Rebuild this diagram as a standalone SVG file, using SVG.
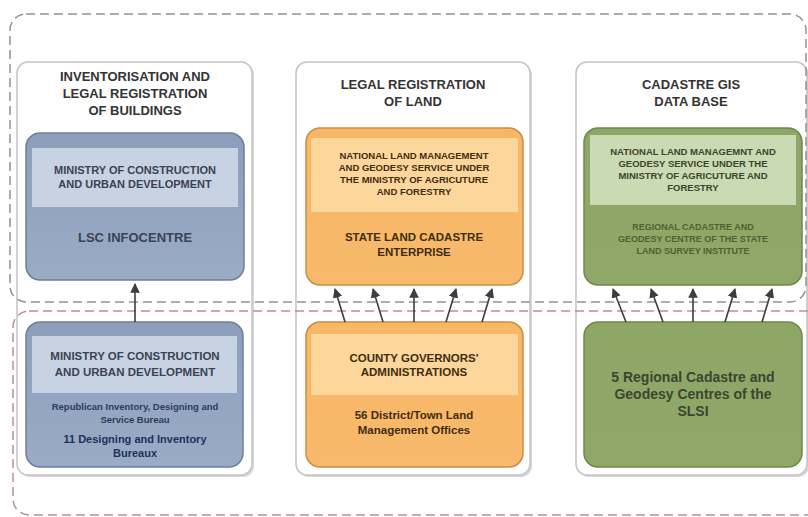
<svg xmlns="http://www.w3.org/2000/svg" width="808" height="517" viewBox="0 0 808 517">
<style>
text{font-family:"Liberation Sans",Arial,sans-serif;font-weight:bold;text-anchor:middle}
.hdr{font-size:13px;fill:#333}
.panel{fill:#fff;stroke:#c4c4c8;stroke-width:1.5}
.shadow{fill:#d8d8dc}
.dash1{fill:none;stroke:#9a8e8e;stroke-width:1.5;stroke-dasharray:9 5}
.dash2{fill:none;stroke:#b89292;stroke-width:1.5;stroke-dasharray:9 5}
.blue{fill:url(#gBlue);stroke:#6e7f9c;stroke-width:1.5}
.blueBand{fill:#c7d2e2}
.orange{fill:url(#gOrange);stroke:#c98d45;stroke-width:1.5}
.orangeBand{fill:#fdd69c}
.green{fill:url(#gGreen);stroke:#6f874c;stroke-width:1.5}
.greenBand{fill:#cadab2}
.tb{fill:#3b4252}
.to{fill:#3d2e12}
.tg{fill:#3c4530}
.tg2{fill:#4f6034}
.arrow{stroke:#3d3d3d;stroke-width:1.6;fill:none;marker-end:url(#ah)}
</style>
<defs>
<linearGradient id="gBlue" x1="0" y1="0" x2="0" y2="1"><stop offset="0" stop-color="#8d9ebb"/><stop offset="1" stop-color="#9aabc6"/></linearGradient>
<linearGradient id="gOrange" x1="0" y1="0" x2="0" y2="1"><stop offset="0" stop-color="#f7b764"/><stop offset="1" stop-color="#f9b96c"/></linearGradient>
<linearGradient id="gGreen" x1="0" y1="0" x2="0" y2="1"><stop offset="0" stop-color="#8ea766"/><stop offset="1" stop-color="#90a867"/></linearGradient>
<marker id="ah" viewBox="0 0 10 10" refX="9" refY="5" markerWidth="6" markerHeight="6" orient="auto-start-reverse"><path d="M0,0 L10,5 L0,10 z" fill="#3d3d3d"/></marker>
</defs>
<rect width="808" height="517" fill="#fff"/>

<g id="panel-buildings">
<rect class="shadow" x="19" y="64" width="235" height="413" rx="11"/>
<rect class="panel" x="17" y="62" width="235" height="413" rx="11"/>
<text class="hdr" x="135" y="81">INVENTORISATION AND</text>
<text class="hdr" x="135" y="98">LEGAL REGISTRATION</text>
<text class="hdr" x="135" y="115">OF BUILDINGS</text>
</g>
<g id="panel-land">
<rect class="shadow" x="298" y="64" width="234" height="413" rx="11"/>
<rect class="panel" x="296" y="62" width="234" height="413" rx="11"/>
<text class="hdr" x="413" y="89">LEGAL REGISTRATION</text>
<text class="hdr" x="413" y="106">OF LAND</text>
</g>
<g id="panel-gis">
<rect class="shadow" x="578" y="64" width="231" height="413" rx="11"/>
<rect class="panel" x="576" y="62" width="231" height="413" rx="11"/>
<text class="hdr" x="691" y="89">CADASTRE GIS</text>
<text class="hdr" x="691" y="106">DATA BASE</text>
</g>

<g id="regions">
<rect class="dash1" x="10" y="14" width="796" height="288" rx="16"/>
<rect class="dash2" x="13" y="311" width="810" height="204" rx="16"/>
</g>

<g id="lsc-infocentre">
<rect class="blue" x="26" y="133" width="218" height="147" rx="14"/>
<rect class="blueBand" x="32" y="148" width="206" height="59"/>
<text class="tb" x="135" y="174" font-size="11">MINISTRY OF CONSTRUCTION</text>
<text class="tb" x="135" y="188" font-size="11">AND URBAN DEVELOPMENT</text>
<text class="tb" x="135" y="242" font-size="13">LSC INFOCENTRE</text>
</g>

<g id="state-land-cadastre">
<rect class="orange" x="306" y="128" width="217" height="157" rx="14"/>
<rect class="orangeBand" x="311" y="138" width="207" height="74"/>
<text class="to" x="414" y="159" font-size="9.5">NATIONAL LAND MANAGEMENT</text>
<text class="to" x="414" y="171" font-size="9.5">AND GEODESY SERVICE UNDER</text>
<text class="to" x="414" y="183" font-size="9.5">THE MINISTRY OF AGRICUTURE</text>
<text class="to" x="414" y="195" font-size="9.5">AND FORESTRY</text>
<text class="to" x="414" y="241" font-size="11.5">STATE LAND CADASTRE</text>
<text class="to" x="414" y="256" font-size="11.5">ENTERPRISE</text>
</g>

<g id="regional-cadastre-centre">
<rect class="green" x="584" y="128" width="218" height="157" rx="14"/>
<rect class="greenBand" x="590" y="135" width="206" height="70"/>
<text class="tg" x="693" y="155" font-size="9.5">NATIONAL LAND MANAGEMNT AND</text>
<text class="tg" x="693" y="167" font-size="9.5">GEODESY SERVICE UNDER THE</text>
<text class="tg" x="693" y="179" font-size="9.5">MINISTRY OF AGRICUTURE AND</text>
<text class="tg" x="693" y="191" font-size="9.5">FORESTRY</text>
<text class="tg2" x="693" y="230" font-size="9">REGIONAL CADASTRE AND</text>
<text class="tg2" x="693" y="242" font-size="9">GEODESY CENTRE OF THE STATE</text>
<text class="tg2" x="693" y="254" font-size="9">LAND SURVEY INSTITUTE</text>
</g>

<g id="ministry-bureaux">
<rect class="blue" x="26" y="322" width="217" height="145" rx="14"/>
<rect class="blueBand" x="32" y="336" width="205" height="57"/>
<text class="tb" x="135" y="360" font-size="11.5">MINISTRY OF CONSTRUCTION</text>
<text class="tb" x="135" y="376" font-size="11.5">AND URBAN DEVELOPMENT</text>
<text x="135" y="410" font-size="9.5" fill="#2c3a5c">Republican Inventory, Designing and</text>
<text x="135" y="423" font-size="9.5" fill="#2c3a5c">Service Bureau</text>
<text x="135" y="443" font-size="11" fill="#22305a">11  Designing and Inventory</text>
<text x="135" y="457" font-size="11" fill="#22305a">Bureaux</text>
</g>

<g id="county-administrations">
<rect class="orange" x="306" y="322" width="217" height="145" rx="14"/>
<rect class="orangeBand" x="311" y="334" width="207" height="61"/>
<text class="to" x="414" y="362" font-size="11.5">COUNTY GOVERNORS'</text>
<text class="to" x="414" y="376" font-size="11.5">ADMINISTRATIONS</text>
<text class="to" x="414" y="419" font-size="11.5">56  District/Town Land</text>
<text class="to" x="414" y="434" font-size="11.5">Management Offices</text>
</g>

<g id="regional-centres-slsi">
<rect class="green" x="584" y="322" width="218" height="145" rx="14"/>
<text class="tg" x="693" y="382" font-size="14">5 Regional Cadastre and</text>
<text class="tg" x="693" y="399" font-size="14">Geodesy Centres of the</text>
<text class="tg" x="693" y="416" font-size="14">SLSI</text>
</g>

<g id="connectors">
<line class="arrow" x1="135" y1="322" x2="135" y2="284"/>
<line class="arrow" x1="345" y1="322" x2="335" y2="289"/>
<line class="arrow" x1="383" y1="322" x2="373" y2="289"/>
<line class="arrow" x1="414" y1="322" x2="414" y2="289"/>
<line class="arrow" x1="446" y1="322" x2="456" y2="289"/>
<line class="arrow" x1="482" y1="322" x2="492" y2="289"/>
<line class="arrow" x1="626" y1="322" x2="613" y2="289"/>
<line class="arrow" x1="663" y1="322" x2="651" y2="289"/>
<line class="arrow" x1="693" y1="322" x2="693" y2="289"/>
<line class="arrow" x1="725" y1="322" x2="735" y2="289"/>
<line class="arrow" x1="762" y1="322" x2="772" y2="289"/>
</g>
</svg>
